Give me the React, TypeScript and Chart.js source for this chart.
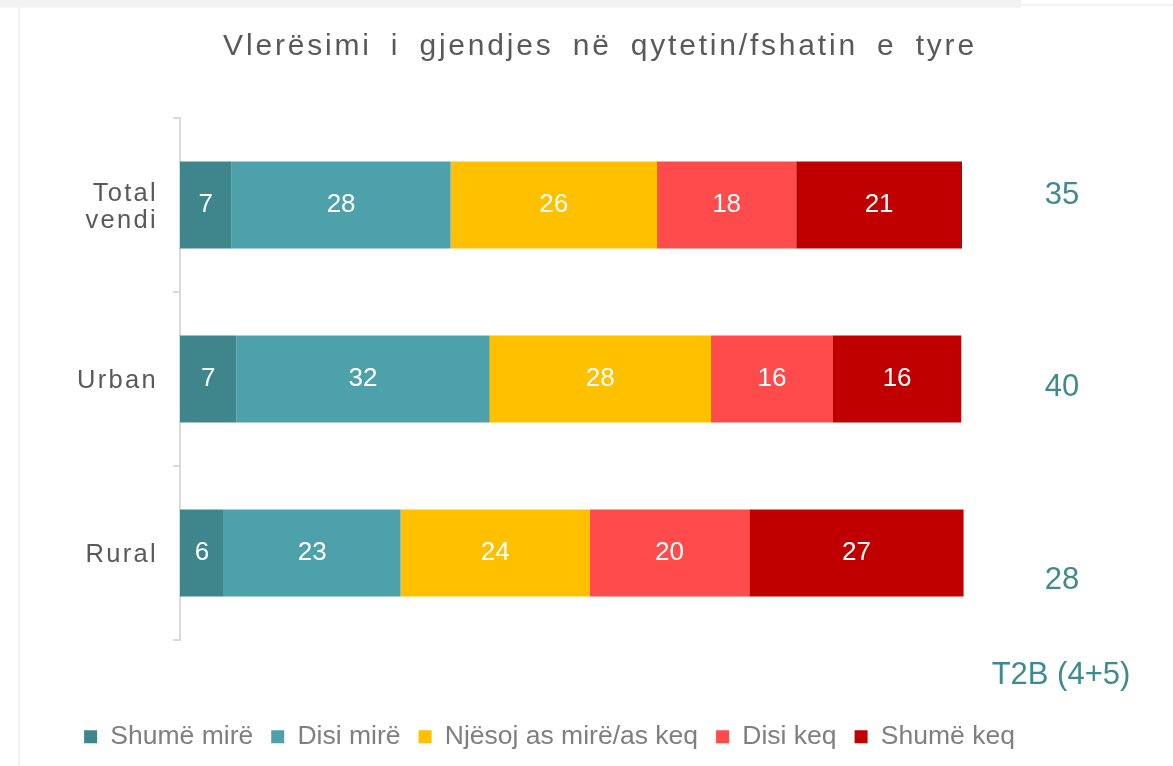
import React, { useEffect, useRef } from "react";
import { Chart, registerables } from "chart.js";

Chart.register(...registerables);

// ---- data ----
const title = "Vlerësimi i gjendjes në qytetin/fshatin e tyre";
const categories: (string | string[])[] = [["Total", "vendi"], "Urban", "Rural"];
const seriesNames = ["Shumë mirë", "Disi mirë", "Njësoj as mirë/as keq", "Disi keq", "Shumë keq"];
const shumeMire = [6.6, 7.2, 5.6];
const disiMire = [28.0, 32.4, 22.6];
const njesoj = [26.4, 28.3, 24.2];
const disiKeq = [17.8, 15.6, 20.4];
const shumeKeq = [21.2, 16.4, 27.4];
const t2bTitle = "T2B (4+5)";
const t2bValues = shumeMire.map((v, i) => Math.round(v + disiMire[i]));

// ---- styles ----
const seriesColors = ["#3e868c", "#4ca1aa", "#ffc000", "#ff4b4b", "#c00000"];
const FONT = '"Liberation Sans", Arial, Helvetica, sans-serif';
const TEXT_DARK = "#595959";
const TEAL_TEXT = "#3d8a90";
const T2B_NUDGE = [-10, 8, 27];

const decorPlugin = {
  id: "decor",
  beforeDraw(chart: any) {
    const { ctx, width, height } = chart;
    ctx.save();
    ctx.fillStyle = "#ffffff";
    ctx.fillRect(0, 0, width, height);
    ctx.fillStyle = "#f2f2f2";
    ctx.fillRect(0, 0, 1021, 7.5);
    ctx.fillRect(1021, 4, width - 1021, 2);
    ctx.fillRect(18, 7, 2, height - 7);
    ctx.restore();
  },
  afterDatasetsDraw(chart: any) {
    const { ctx } = chart;
    ctx.save();
    ctx.fillStyle = "#ffffff";
    ctx.font = `26px ${FONT}`;
    ctx.textAlign = "center";
    ctx.textBaseline = "middle";
    chart.data.datasets.forEach((ds: any, di: number) => {
      const meta = chart.getDatasetMeta(di);
      meta.data.forEach((el: any, i: number) => {
        const cx = (el.x + el.base) / 2;
        ctx.fillText(String(Math.round(ds.data[i])), cx, el.y);
      });
    });
    ctx.restore();
  },
  afterDraw(chart: any) {
    const { ctx, chartArea } = chart;
    const yScale = chart.scales.y;
    ctx.save();
    // title
    ctx.fillStyle = TEXT_DARK;
    ctx.font = `30px ${FONT}`;
    (ctx as any).letterSpacing = "2.8px";
    (ctx as any).wordSpacing = "8px";
    ctx.textAlign = "center";
    ctx.textBaseline = "alphabetic";
    ctx.fillText(title, 600, 55);
    (ctx as any).wordSpacing = "0px";

    // category labels
    ctx.font = `25.5px ${FONT}`;
    (ctx as any).letterSpacing = "2.3px";
    ctx.textAlign = "right";
    categories.forEach((c, i) => {
      const lines = Array.isArray(c) ? c : [c];
      const cy = yScale.getPixelForValue(i);
      lines.forEach((line, k) => {
        const by = cy + 9 + (k - (lines.length - 1) / 2) * 27;
        ctx.fillText(line, 158, by);
      });
    });
    (ctx as any).letterSpacing = "0px";

    // T2B values
    ctx.fillStyle = TEAL_TEXT;
    ctx.font = `31px ${FONT}`;
    ctx.textAlign = "center";
    ctx.textBaseline = "middle";
    const tx = chartArea.right + 100;
    t2bValues.forEach((v, i) => {
      ctx.fillText(String(v), tx, yScale.getPixelForValue(i) + T2B_NUDGE[i]);
    });
    ctx.fillText(t2bTitle, tx - 1, chartArea.bottom + 35);
    ctx.restore();
  },
};

export default function App() {
  const ref = useRef<HTMLCanvasElement | null>(null);
  useEffect(() => {
    document.body.style.margin = "0";
    const canvas = ref.current;
    if (!canvas) return;
    Chart.defaults.font.family = FONT;
    const seriesData = [shumeMire, disiMire, njesoj, disiKeq, shumeKeq];
    const chart = new Chart(canvas, {
      type: "bar",
      data: {
        labels: categories as any,
        datasets: seriesNames.map((name, i) => ({
          label: name,
          data: seriesData[i],
          backgroundColor: seriesColors[i],
          borderWidth: 0,
          barPercentage: 0.5,
          categoryPercentage: 1.0,
          clip: false as any,
        })),
      },
      options: {
        indexAxis: "y",
        responsive: false,
        animation: false,
        layout: { padding: { left: 0, right: 74, top: 118, bottom: 6 } },
        scales: {
          x: {
            stacked: true,
            min: 0,
            max: 100,
            display: true,
            grid: { display: false },
            border: { display: false },
            ticks: { display: false },
            afterFit: (s: any) => {
              s.height = 65.5;
            },
          },
          y: {
            stacked: true,
            grid: {
              offset: true,
              drawOnChartArea: false,
              tickLength: 7,
              color: "#d9d9d9",
              lineWidth: 2,
            },
            border: { color: "#d9d9d9", width: 2 },
            ticks: { display: false },
            afterFit: (s: any) => {
              s.width = 180;
            },
          },
          yRight: {
            type: "linear",
            position: "right",
            display: true,
            grid: { display: false },
            border: { display: false },
            ticks: { display: false },
            afterFit: (s: any) => {
              s.width = 137;
            },
          },
        },
        plugins: {
          title: { display: false },
          tooltip: { enabled: false },
          legend: {
            display: true,
            position: "bottom",
            labels: {
              boxWidth: 13,
              boxHeight: 13,
              padding: 18,
              color: "#7f7f7f",
              font: { size: 26.5, family: FONT },
            },
          },
        },
      },
      plugins: [decorPlugin],
    });
    return () => chart.destroy();
  }, []);
  return (
    <div style={{ width: 1173, height: 766 }}>
      <canvas ref={ref} width={1173} height={766} style={{ display: "block" }} />
    </div>
  );
}
